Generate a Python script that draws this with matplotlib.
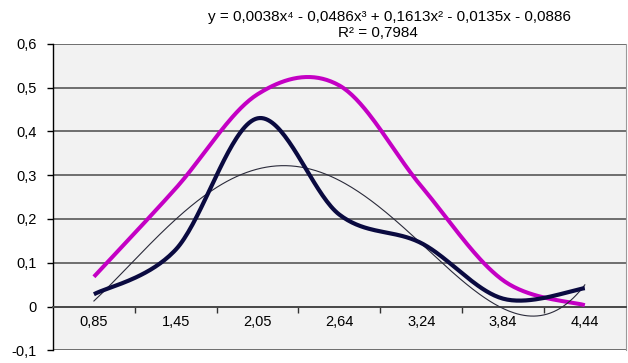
import numpy as np
import matplotlib
matplotlib.use("Agg")
import matplotlib.pyplot as plt

plt.rcParams['font.family'] = ['Liberation Sans', 'DejaVu Sans']

cats = ['0,85', '1,45', '2,05', '2,64', '3,24', '3,84', '4,44']
magenta = [0.068, 0.27, 0.485, 0.505, 0.275, 0.06, 0.003]
navy = [0.028, 0.13, 0.43, 0.21, 0.145, 0.018, 0.042]
yticks = [-0.1, 0, 0.1, 0.2, 0.3, 0.4, 0.5, 0.6]
eq_text = 'y = 0,0038x\u2074 - 0,0486x\u00b3 + 0,1613x\u00b2 - 0,0135x - 0,0886'
r2_text = 'R\u00b2 = 0,7984'


def smooth(x, y, n=40):
    # excel-like smoothed line (bezier through the points)
    x = np.asarray(x, float)
    y = np.asarray(y, float)
    px = np.concatenate([[x[0]], x, [x[-1]]])
    py = np.concatenate([[y[0]], y, [y[-1]]])
    t = np.linspace(0, 1, n)
    xs, ys = [], []
    for i in range(len(x) - 1):
        p0 = np.array([px[i + 1], py[i + 1]])
        p3 = np.array([px[i + 2], py[i + 2]])
        c1 = p0 + (p3 - np.array([px[i], py[i]])) / 6
        c2 = p3 - (np.array([px[i + 3], py[i + 3]]) - p0) / 6
        b = ((1 - t) ** 3)[:, None] * p0 + (3 * (1 - t) ** 2 * t)[:, None] * c1 \
            + (3 * (1 - t) * t ** 2)[:, None] * c2 + (t ** 3)[:, None] * p3
        xs.append(b[:, 0])
        ys.append(b[:, 1])
    return np.concatenate(xs), np.concatenate(ys)


pos = np.arange(len(cats))

fig = plt.figure(figsize=(6.28, 3.63), dpi=100)
ax = fig.add_axes([0.0844, 0.035, 0.912, 0.844])
ax.set_facecolor('#f2f2f2')

for v in yticks:
    ax.axhline(v, color='#4a4a4a', lw=1.1, zorder=1)

# trendline: 4th order polynomial of the navy series
coef = np.polyfit(pos + 1, navy, 4)
xt = np.linspace(1, len(cats), 300)
ax.plot(xt - 1, np.polyval(coef, xt), color='#2a2a3a', lw=0.8, zorder=4)

sx, sy = smooth(pos, magenta)
ax.plot(sx, sy, color='#c400c4', lw=2.9, solid_capstyle='butt', zorder=3)
sx, sy = smooth(pos, navy)
ax.plot(sx, sy, color='#0a0a40', lw=3.0, solid_capstyle='butt', zorder=5)

ax.set_xlim(-0.5, len(cats) - 0.5)
ax.set_ylim(-0.1, 0.6)
ax.set_yticks(yticks)
ax.set_yticklabels(['-0,1', '0', '0,1', '0,2', '0,3', '0,4', '0,5', '0,6'], fontsize=10.5)
ax.tick_params(axis='y', length=4, width=1, color='black', pad=8)

ax.spines['bottom'].set_position(('data', 0))
ax.spines['bottom'].set_color('#4a4a4a')
ax.spines['bottom'].set_linewidth(1.4)
ax.spines['top'].set_visible(False)
ax.spines['right'].set_color('#9a9a9a')
ax.spines['left'].set_color('black')
ax.spines['left'].set_linewidth(1)

ax.set_xticks(pos)
ax.set_xticklabels(cats, fontsize=10.5)
ax.set_xticks(pos[:-1] + 0.5, minor=True)
ax.tick_params(axis='x', which='major', length=0, pad=6)
ax.tick_params(axis='x', which='minor', length=4, width=1, color='#333333', direction='out')

fig.text(0.621, 0.953, eq_text, ha='center', va='center', fontsize=11)
fig.text(0.602, 0.908, r2_text, ha='center', va='center', fontsize=11)

fig.savefig('out.png', dpi=100)
